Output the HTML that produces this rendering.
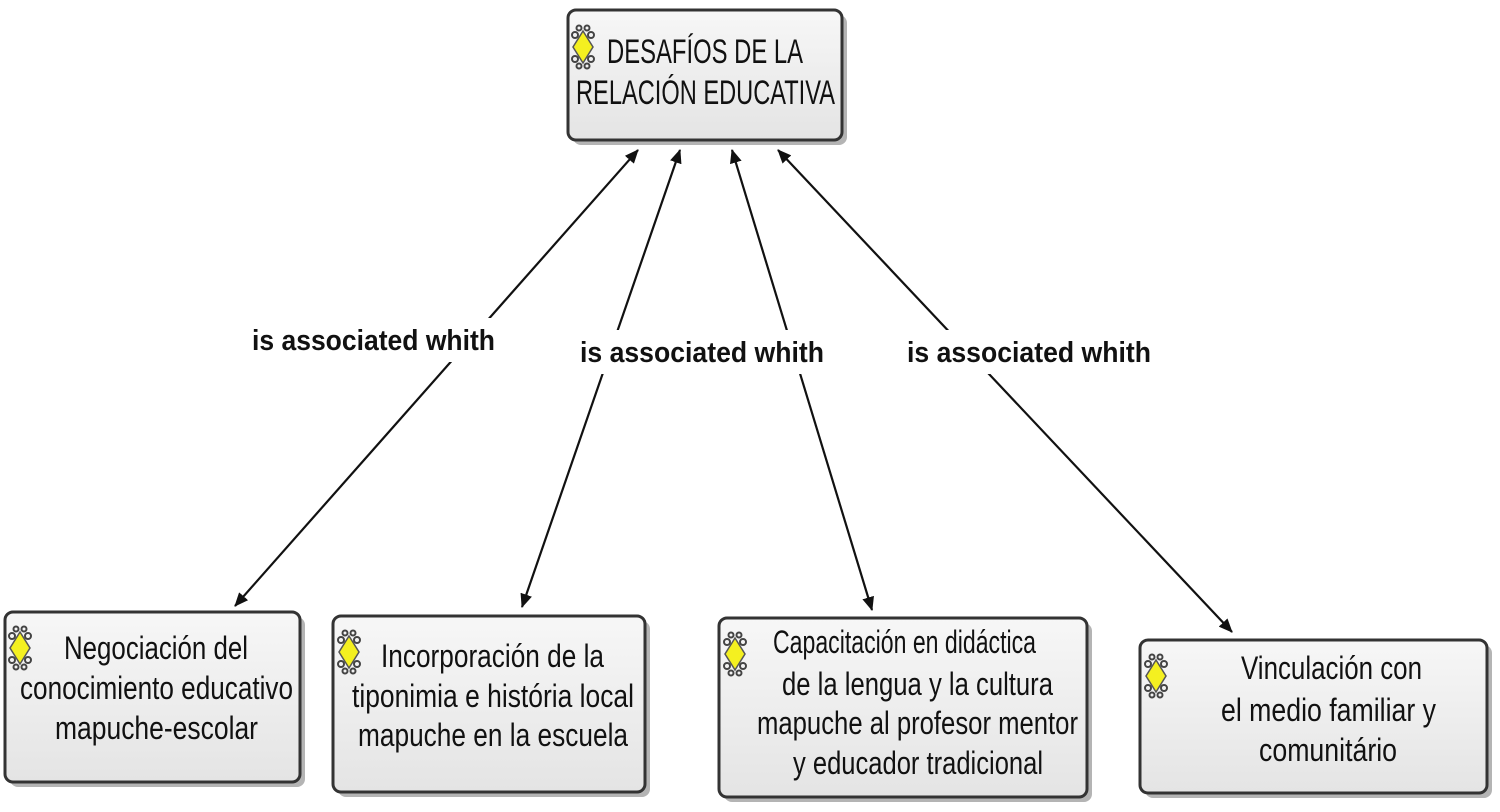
<!DOCTYPE html>
<html><head><meta charset="utf-8"><style>
html,body{margin:0;padding:0;background:#fff;width:1500px;height:812px;overflow:hidden}
text{font-family:"Liberation Sans Narrow","Liberation Sans",sans-serif;fill:#111}
</style></head><body>
<svg width="1500" height="812" viewBox="0 0 1500 812" xmlns="http://www.w3.org/2000/svg">
<defs>
<linearGradient id="g" x1="0" y1="0" x2="0" y2="1"><stop offset="0" stop-color="#f7f7f7"/><stop offset="1" stop-color="#e4e4e4"/></linearGradient>
<marker id="a" viewBox="0 0 14 12" refX="13" refY="6" markerWidth="14" markerHeight="12" orient="auto-start-reverse" markerUnits="userSpaceOnUse"><path d="M0,0 L14,6 L0,12 z" fill="#111"/></marker>
<g id="ic"><path d="M0,-16 L10,0 L0,16 L-10,0z" fill="#f4f020" stroke="#555" stroke-width="1.5"/><g fill="none" stroke="#444" stroke-width="2"><circle cx="-8" cy="-12" r="3"/><circle cx="8" cy="-12" r="3"/><circle cx="-8" cy="12" r="3"/><circle cx="8" cy="12" r="3"/><circle cx="-4" cy="-19" r="2.5"/><circle cx="4" cy="-19" r="2.5"/><circle cx="-4" cy="19" r="2.5"/><circle cx="4" cy="19" r="2.5"/></g></g>
</defs>
<g stroke="#111" stroke-width="2.2" fill="none">
<line x1="638" y1="150" x2="235" y2="606" marker-start="url(#a)" marker-end="url(#a)"/>
<line x1="680" y1="150" x2="522" y2="607" marker-start="url(#a)" marker-end="url(#a)"/>
<line x1="732" y1="150" x2="872" y2="610" marker-start="url(#a)" marker-end="url(#a)"/>
<line x1="778" y1="150" x2="1232" y2="632" marker-start="url(#a)" marker-end="url(#a)"/>
</g>
<g font-size="29">
<rect x="248" y="318" width="252" height="44" fill="#fff"/>
<rect x="576" y="330" width="252" height="44" fill="#fff"/>
<rect x="903" y="330" width="252" height="44" fill="#fff"/>
<text x="252" y="350" textLength="243" lengthAdjust="spacingAndGlyphs" style="font-family:'Liberation Sans',sans-serif;font-weight:bold">is associated whith</text>
<text x="580" y="362" textLength="244" lengthAdjust="spacingAndGlyphs" style="font-family:'Liberation Sans',sans-serif;font-weight:bold">is associated whith</text>
<text x="907" y="362" textLength="244" lengthAdjust="spacingAndGlyphs" style="font-family:'Liberation Sans',sans-serif;font-weight:bold">is associated whith</text>
</g>
<g stroke="#333" stroke-width="3" fill="url(#g)">
<rect x="573" y="15" width="274" height="130" rx="8" fill="#777" stroke="none" opacity=".55"/>
<rect x="568" y="10" width="274" height="130" rx="8"/>
<rect x="10" y="617" width="295" height="170" rx="8" fill="#777" stroke="none" opacity=".55"/>
<rect x="5" y="612" width="295" height="170" rx="8"/>
<rect x="338" y="621" width="312" height="176" rx="8" fill="#777" stroke="none" opacity=".55"/>
<rect x="333" y="616" width="312" height="176" rx="8"/>
<rect x="724" y="623" width="368" height="179" rx="8" fill="#777" stroke="none" opacity=".55"/>
<rect x="719" y="618" width="368" height="179" rx="8"/>
<rect x="1145" y="645" width="347" height="153" rx="8" fill="#777" stroke="none" opacity=".55"/>
<rect x="1140" y="640" width="347" height="153" rx="8"/>
</g>
<use href="#ic" x="583" y="47"/>
<use href="#ic" x="20" y="648"/>
<use href="#ic" x="349" y="652"/>
<use href="#ic" x="735" y="654"/>
<use href="#ic" x="1156" y="676"/>
<g font-size="34">
<text x="607" y="63" textLength="196" lengthAdjust="spacingAndGlyphs">DESAFÍOS DE LA</text>
<text x="576" y="104" textLength="259" lengthAdjust="spacingAndGlyphs">RELACIÓN EDUCATIVA</text>
</g>
<g font-size="32">
<text x="64" y="659" textLength="184" lengthAdjust="spacingAndGlyphs">Negociación del</text>
<text x="20" y="699" textLength="273" lengthAdjust="spacingAndGlyphs">conocimiento educativo</text>
<text x="55" y="739" textLength="203" lengthAdjust="spacingAndGlyphs">mapuche-escolar</text>
<text x="381" y="667" textLength="223" lengthAdjust="spacingAndGlyphs">Incorporación de la</text>
<text x="352" y="707" textLength="282" lengthAdjust="spacingAndGlyphs">tiponimia e história local</text>
<text x="358" y="746" textLength="270" lengthAdjust="spacingAndGlyphs">mapuche en la escuela</text>
<text x="773" y="653" textLength="263" lengthAdjust="spacingAndGlyphs">Capacitación en didáctica</text>
<text x="782" y="695" textLength="271" lengthAdjust="spacingAndGlyphs">de la lengua y la cultura</text>
<text x="757" y="734" textLength="321" lengthAdjust="spacingAndGlyphs">mapuche al profesor mentor</text>
<text x="793" y="774" textLength="250" lengthAdjust="spacingAndGlyphs">y educador tradicional</text>
<text x="1241" y="679" textLength="181" lengthAdjust="spacingAndGlyphs">Vinculación con</text>
<text x="1221" y="721" textLength="215" lengthAdjust="spacingAndGlyphs">el medio familiar y</text>
<text x="1259" y="761" textLength="138" lengthAdjust="spacingAndGlyphs">comunitário</text>
</g>
</svg>
</body></html>
